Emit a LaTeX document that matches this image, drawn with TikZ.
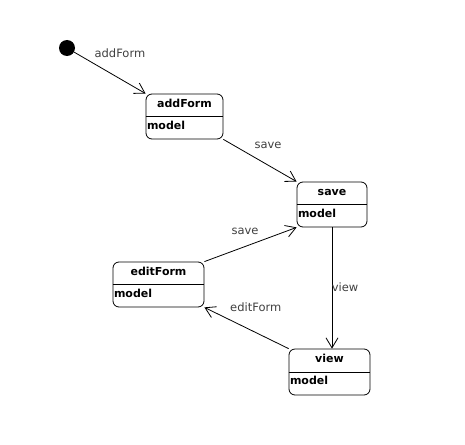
\documentclass[tikz,border=0pt]{standalone}
\usepackage{fontspec}
\setmainfont{DejaVu Sans}
\usetikzlibrary{arrows.meta}

\begin{document}
\begin{tikzpicture}[x=1pt, y=-1pt, line width=0.8pt,
  state/.style={rectangle, draw, rounded corners=6pt, minimum height=45pt, inner sep=0pt},
  title/.style={font=\fontsize{11}{13}\selectfont\bfseries, anchor=base, inner sep=0pt},
  model/.style={font=\fontsize{11}{13}\selectfont\bfseries, anchor=base west, inner sep=1pt},
  lbl/.style={font=\fontsize{11.5}{13}\selectfont, text=black!75},
  trans/.style={-{Straight Barb[length=10pt, width=12pt]}}]
  \useasboundingbox (0,0) rectangle (465,444);

  % initial state
  \node[circle, fill=black, minimum size=16pt, inner sep=0pt] (init) at (67,48) {};

  % states
  \node[state, minimum width=77pt] (addForm) at (184.5,116.5) {};
  \node[title] (addForm title) at ([yshift=-13.5pt]addForm.north) {addForm};
  \node[model] (addForm model) at ([yshift=-12.5pt]addForm.west) {model};
  \draw (addForm.west) -- (addForm.east);

  \node[state, minimum width=70pt] (save) at (332,204.5) {};
  \node[title] (save title) at ([yshift=-13.5pt]save.north) {save};
  \node[model] (save model) at ([yshift=-12.5pt]save.west) {model};
  \draw (save.west) -- (save.east);

  \node[state, minimum width=91pt] (editForm) at (158.5,284.5) {};
  \node[title] (editForm title) at ([yshift=-13.5pt]editForm.north) {editForm};
  \node[model] (editForm model) at ([yshift=-12.5pt]editForm.west) {model};
  \draw (editForm.west) -- (editForm.east);

  \node[state, minimum width=81pt, minimum height=46pt] (view) at (329.5,372) {};
  \node[title] (view title) at ([yshift=-13.5pt]view.north) {view};
  \node[model] (view model) at ([yshift=-12.5pt]view.west) {model};
  \draw (view.west) -- (view.east);

  % transitions
  \draw[trans] (init) -- (addForm.north west) node[lbl, pos=.64, yshift=25pt] {addForm};
  \draw[trans] (addForm.south east) -- (save.north west) node[lbl, pos=.61, yshift=20pt] {save};
  \draw[trans] (editForm.north east) -- (save.south west) node[lbl, pos=.44, yshift=15.5pt] {save};
  \draw[trans] (save.south) -- (save.south |- view.north) node[lbl, pos=.49, xshift=13pt] {view};
  \draw[trans] (view.north west) -- (editForm.south east) node[lbl, pos=.39, yshift=25.5pt] {editForm};
\end{tikzpicture}
\end{document}
